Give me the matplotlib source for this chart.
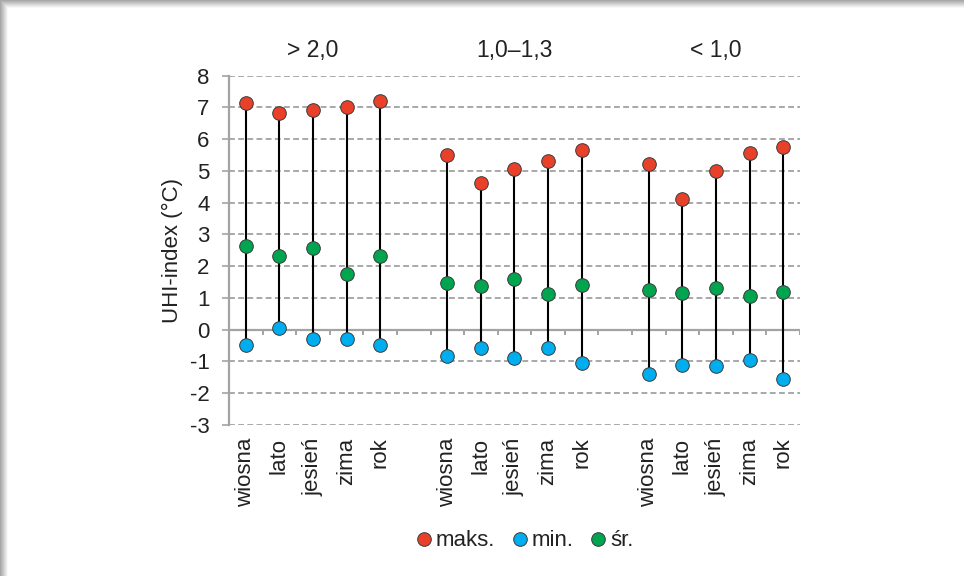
import matplotlib
matplotlib.use("Agg")
import matplotlib.pyplot as plt
from matplotlib.patches import Rectangle
from matplotlib.lines import Line2D
import matplotlib.transforms as mtransforms
import numpy as np

plt.rcParams['font.family'] = ['Liberation Sans', 'DejaVu Sans']

seasons = ["wiosna", "lato", "jesień", "zima", "rok"]
groups = ["> 2,0", "1,0–1,3", "< 1,0"]

maks = [7.14, 6.82, 6.92, 7.03, 7.2,
        5.5, 4.61, 5.05, 5.31, 5.65,
        5.21, 4.13, 5.01, 5.57, 5.76]
mins = [-0.49, 0.07, -0.29, -0.3, -0.49,
        -0.83, -0.56, -0.9, -0.59, -1.04,
        -1.4, -1.11, -1.14, -0.95, -1.54]
sr = [2.63, 2.31, 2.58, 1.77, 2.31,
      1.46, 1.37, 1.61, 1.12, 1.4,
      1.25, 1.15, 1.31, 1.06, 1.19]

C_MAX = "#E9402A"
C_MIN = "#00AEEF"
C_SR = "#00A550"
EDGE = "#3a3a3a"
GRID = "#9a9a9a"
AXC = "#a3a3a3"
TXT = "#222222"
FS = 16

fig = plt.figure(figsize=(9.64, 5.76), dpi=100)
fig.patch.set_facecolor("white")

# soft card shadow along the top and left edges
W, H = 964, 576
for i in range(8):
    g = 0.66 + i * 0.045
    col = (g, g, g)
    fig.patches.append(Rectangle((0, H - 1 - i), W, 1, transform=None,
                                 facecolor=col, edgecolor="none", zorder=-5))
    fig.patches.append(Rectangle((i, 0), 1, H - i, transform=None,
                                 facecolor=col, edgecolor="none", zorder=-4))

ax = fig.add_axes([229 / W, 1 - 425 / H, (800 - 229) / W, (425 - 75.7) / H])

# category positions: three groups of five with a one-slot gap
pos = []
for g in range(3):
    pos += [g * 6 + k for k in range(5)]
pos = np.array(pos, dtype=float)
labels = seasons * 3

ax.set_xlim(-0.5, 16.5)
ax.set_ylim(-3, 8)

for y in range(-3, 9):
    if y == 0:
        continue
    ax.axhline(y, color=GRID, lw=1.2, ls=(0, (3.5, 2)), zorder=1)
ax.axhline(0, color=AXC, lw=1.6, zorder=2)
ax.vlines(np.arange(-0.5, 17, 1.0), -0.17, 0, color=AXC, lw=1.4, zorder=2)

ax.vlines(pos, mins, maks, color="black", lw=1.5, zorder=3)
ms = 9.8
for vals, c in ((maks, C_MAX), (mins, C_MIN), (sr, C_SR)):
    ax.plot(pos, vals, "o", ms=ms, mfc=c, mec=EDGE, mew=0.7, zorder=4, ls="none")

for s in ["top", "right", "bottom"]:
    ax.spines[s].set_visible(False)
ax.spines["left"].set_color(AXC)
ax.spines["left"].set_linewidth(1.6)

ax.set_yticks(range(-3, 9))
ax.set_yticklabels([str(v) for v in range(-3, 9)])
ax.tick_params(axis="y", length=5, width=1.2, color=AXC, labelsize=FS,
               pad=9, labelcolor=TXT)
ax.set_xticks(pos)
ax.set_xticklabels(labels, rotation=90, fontsize=FS, color=TXT)
ax.tick_params(axis="x", length=0, pad=9)

ax.set_ylabel("UHI-index (°C)", fontsize=FS, color=TXT, labelpad=5)

trans = mtransforms.blended_transform_factory(ax.transData, ax.transAxes)
for g, name in enumerate(groups):
    ax.text(g * 6 + 2, 1.072, name, transform=trans, ha="center", va="center",
            fontsize=FS + 0.5, color=TXT)

handles = [Line2D([], [], marker="o", ls="none", ms=ms, mfc=c, mec=EDGE, mew=0.7)
           for c in (C_MAX, C_MIN, C_SR)]
fig.legend(handles, ["maks.", "min.", "śr."], loc="center",
           bbox_to_anchor=(522 / W, 1 - 541 / H), ncol=3, frameon=False,
           fontsize=FS, handletextpad=-0.05, columnspacing=0.5,
           handlelength=1.2, labelcolor=TXT)

fig.savefig("out.png", dpi=100, facecolor="white")
